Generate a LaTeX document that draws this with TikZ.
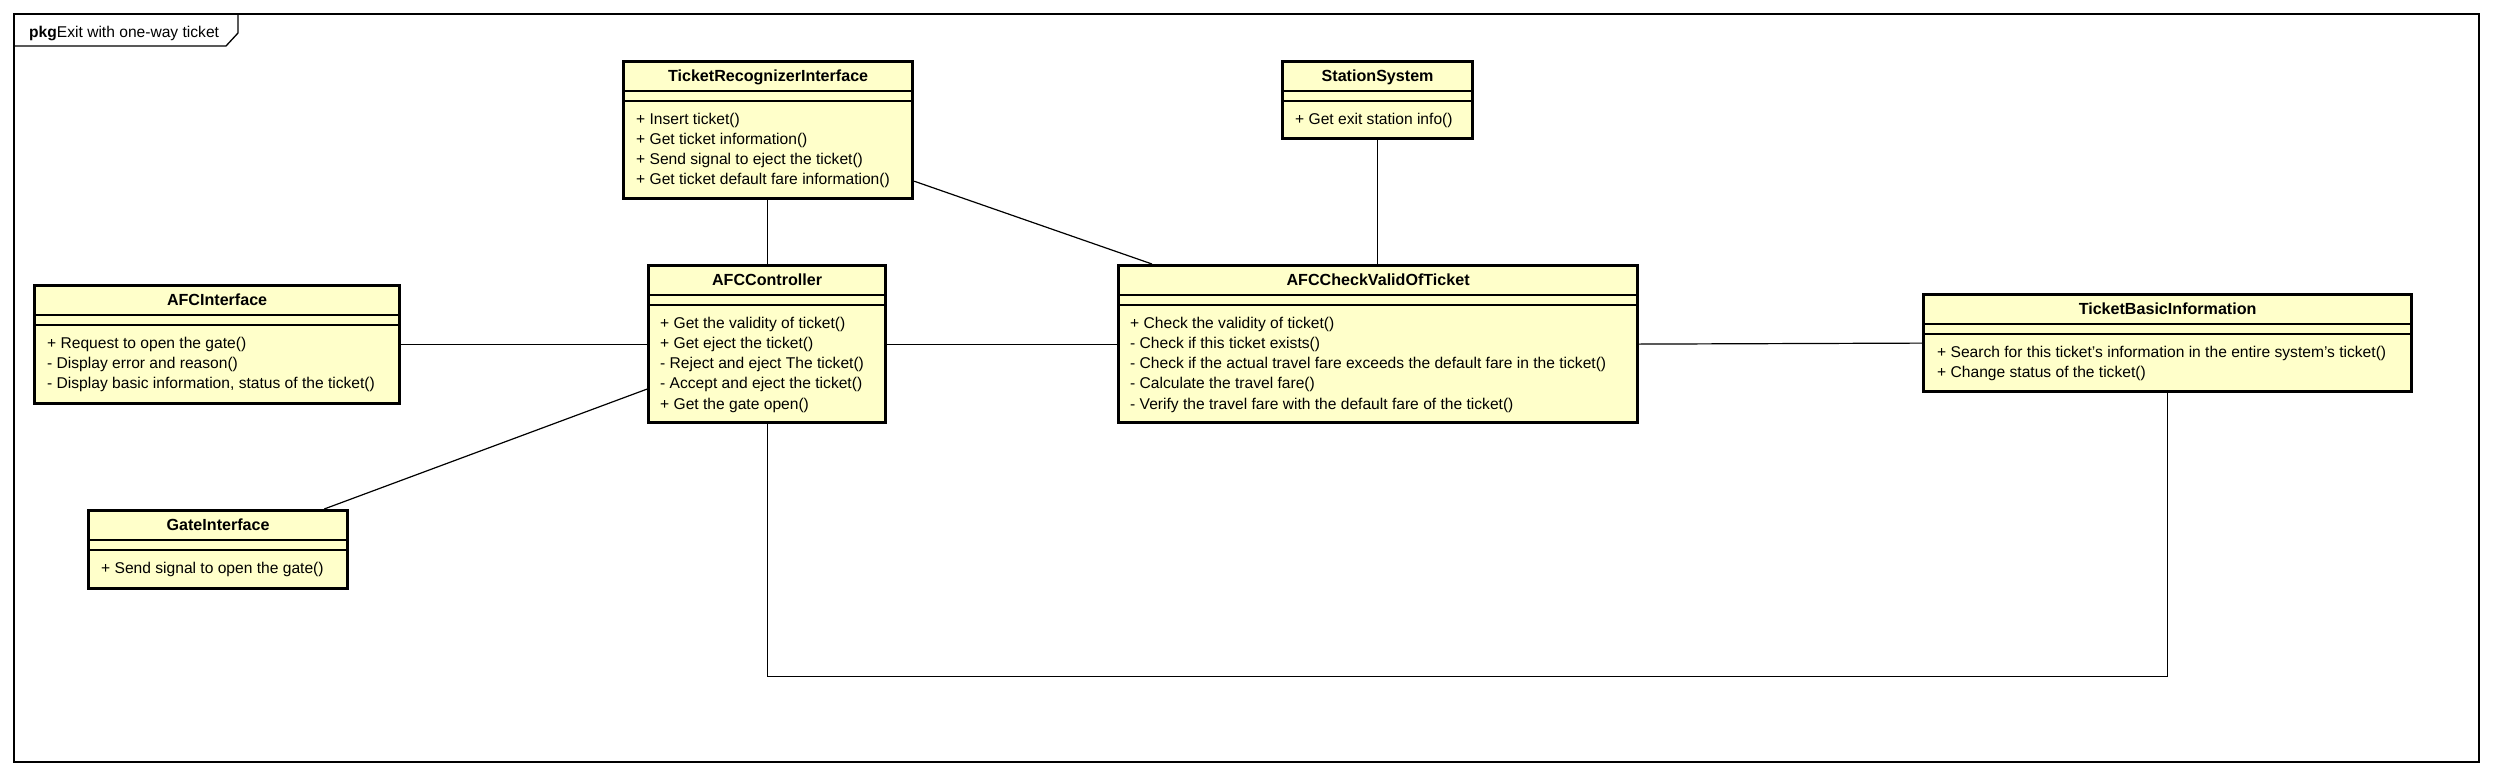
\documentclass[tikz,border=0pt]{standalone}
\usepackage{fontspec}
\setmainfont{Liberation Sans}
\usetikzlibrary{calc}
\definecolor{clsfill}{RGB}{255,255,202}
\tikzset{
  cls/.style={draw=black, line width=3.2pt, fill=clsfill, rectangle, inner sep=0pt, anchor=north west},
  sep/.style={line width=1.3pt},
  conn/.style={line width=1.2pt},
  ttl/.style={anchor=base, inner sep=0pt, font=\fontsize{16.1}{19}\selectfont\bfseries},
  meth/.style={anchor=base west, inner sep=0pt, font=\fontsize{15.6}{19}\selectfont},
  frm/.style={line width=1.3pt},
}
\newcommand{\umlclass}[6]{% name, x, y, width, height, title
  \node[cls, minimum width=#4pt, minimum height=#5pt] (#1) at (#2,#3) {};
  \node[ttl] (#1-t) at ($(#1.north)+(0,21)$) {#6};
  \draw[sep] ($(#1.north west)+(0,31)$) -- ($(#1.north east)+(0,31)$);
  \draw[sep] ($(#1.north west)+(0,41)$) -- ($(#1.north east)+(0,41)$);
}
\begin{document}
\begin{tikzpicture}[x=1pt,y=-1pt]
\useasboundingbox (0,0) rectangle (2493,774);
% package frame
\draw[frm] (14,14) rectangle (2479,762);
\draw[frm] (14,46) -- (226,46) -- (238,33) -- (238,14);
\node[meth] (pkglbl) at (29,37) {\textbf{pkg}Exit with one-way ticket};

% classes
\umlclass{tri}{622}{60}{289}{137}{TicketRecognizerInterface}
\foreach \t [count=\i from 0] in {{+ Insert ticket()},{+ Get ticket information()},{+ Send signal to eject the ticket()},{+ Get ticket default fare information()}}
  \node[meth] (tri-m\i) at ($(tri.north west)+(14,64+20.3*\i)$) {\t};

\umlclass{ss}{1281}{60}{190}{77}{StationSystem}
\node[meth] (ss-m0) at ($(ss.north west)+(14,64)$) {+ Get exit station info()};

\umlclass{afci}{33}{284}{365}{118}{AFCInterface}
\foreach \t [count=\i from 0] in {{+ Request to open the gate()},{- Display error and reason()},{- Display basic information, status of the ticket()}}
  \node[meth] (afci-m\i) at ($(afci.north west)+(14,64+20.3*\i)$) {\t};

\umlclass{afcc}{647}{264}{237}{157}{AFCController}
\foreach \t [count=\i from 0] in {{+ Get the validity of ticket()},{+ Get eject the ticket()},{- Reject and eject The ticket()},{- Accept and eject the ticket()},{+ Get the gate open()}}
  \node[meth] (afcc-m\i) at ($(afcc.north west)+(13,64+20.3*\i)$) {\t};

\umlclass{chk}{1117}{264}{519}{157}{AFCCheckValidOfTicket}
\foreach \t [count=\i from 0] in {{+ Check the validity of ticket()},{- Check if this ticket exists()},{- Check if the actual travel fare exceeds the default fare in the ticket()},{- Calculate the travel fare()},{- Verify the travel fare with the default fare of the ticket()}}
  \node[meth] (chk-m\i) at ($(chk.north west)+(13,64+20.3*\i)$) {\t};

\umlclass{tbi}{1922}{293}{488}{97}{TicketBasicInformation}
\foreach \t [count=\i from 0] in {{+ Search for this ticket's information in the entire system's ticket()},{+ Change status of the ticket()}}
  \node[meth] (tbi-m\i) at ($(tbi.north west)+(15,64+20.3*\i)$) {\t};

\umlclass{gi}{87}{509}{259}{78}{GateInterface}
\node[meth] (gi-m0) at ($(gi.north west)+(14,64)$) {+ Send signal to open the gate()};

% connectors
\draw[conn] (afcc.north |- tri.south) -- (afcc.north);
\draw[conn] ($(tri.south east)+(0,-19)$) -- ($(chk.north west)+(35,0)$);
\draw[conn] (ss.south) -- (ss.south |- chk.north);
\draw[conn] (afci.east |- afcc.west) -- (afcc.west);
\draw[conn] ($(gi.north east)+(-25,0)$) -- ($(afcc.west)+(0,45)$);
\draw[conn] (afcc.east) -- (chk.west);
\draw[conn] (chk.east) -- (tbi.west);
\coordinate (bl) at ($(afcc.south)+(0,252)$);
\draw[conn] (afcc.south) -- (bl) -- (bl -| tbi.south) -- (tbi.south);
\end{tikzpicture}
\end{document}
